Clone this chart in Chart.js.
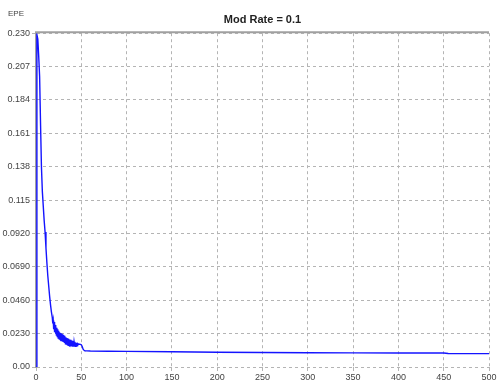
<!DOCTYPE html>
<html>
<head>
<meta charset="utf-8">
<script src="https://cdn.jsdelivr.net/npm/chart.js@4/dist/chart.umd.min.js"></script>
<style>
  html, body { margin: 0; padding: 0; background: #fff; }
  #wrap { width: 499px; height: 385px; }
</style>
</head>
<body>
<div id="wrap"><canvas id="epe-chart"></canvas></div>
<script>
// epochs and EPE (half steps where the curve is noisy)
const epochs = [
  0, 1, 2, 3, 4, 5, 6, 7, 8, 9,
  10, 11, 12, 13, 14, 15, 16, 17, 18,
  18.5, 19, 19.5, 20, 20.5, 21, 21.5, 22, 22.5, 23, 23.5, 24, 24.5, 25, 25.5,
  26, 26.5, 27, 27.5, 28, 28.5, 29, 29.5, 30, 30.5, 31, 31.5, 32, 32.5,
  33, 33.5, 34, 34.5, 35, 35.5, 36, 36.5, 37, 37.5, 38, 38.5, 39, 39.5,
  40, 40.5, 41, 41.5, 42, 42.5, 43, 43.5, 44, 44.5, 45, 45.5, 46,
  47, 48, 49, 50, 51, 52, 53, 54, 56, 60, 80, 100, 150,
  200, 250, 300, 350, 400, 450, 455, 500
];
const epe = [
  0, 0.229, 0.226, 0.214, 0.200, 0.168, 0.138, 0.121, 0.111, 0.101,
  0.093, 0.082, 0.072, 0.063, 0.056, 0.049, 0.043, 0.038, 0.034,
  0.030, 0.032, 0.026, 0.031, 0.024, 0.029, 0.023, 0.028, 0.022, 0.027, 0.021, 0.026, 0.020, 0.025, 0.0195,
  0.024, 0.019, 0.0235, 0.0185, 0.023, 0.018, 0.0225, 0.0175, 0.022, 0.017, 0.0215, 0.0165, 0.021, 0.016,
  0.0205, 0.0158, 0.020, 0.0155, 0.0198, 0.015, 0.0195, 0.0148, 0.019, 0.0145, 0.0187, 0.0143, 0.0183, 0.0142,
  0.018, 0.014, 0.0177, 0.014, 0.0174, 0.0141, 0.0171, 0.0142, 0.0168, 0.0144, 0.0165, 0.0148, 0.0162,
  0.0158, 0.0157, 0.0156, 0.0153, 0.0141, 0.0123, 0.0115, 0.0112, 0.0111, 0.0110, 0.0109, 0.0108, 0.0105,
  0.0102, 0.0100, 0.0098, 0.0097, 0.0096, 0.0096, 0.0093, 0.0092
];
const yTickLabels = ['0.00', '0.0230', '0.0460', '0.0690', '0.0920', '0.115', '0.138', '0.161', '0.184', '0.207', '0.230'];

const gridColor = '#b4b4b4';
const frameColor = '#a0a0a0';
const tickFont = { family: 'Liberation Sans', size: 9 };

// top border + "EPE" label
const frame = {
  id: 'frame',
  afterDraw(chart) {
    const { ctx, chartArea } = chart;
    ctx.save();
    ctx.strokeStyle = frameColor;
    ctx.lineWidth = 2;
    ctx.beginPath();
    ctx.moveTo(chartArea.left - 1, chartArea.top - 1);
    ctx.lineTo(chartArea.right, chartArea.top - 1);
    ctx.stroke();
    ctx.fillStyle = '#444';
    ctx.font = '8px "Liberation Sans"';
    ctx.textBaseline = 'middle';
    ctx.fillText('EPE', 8, 14);
    ctx.restore();
  }
};

new Chart(document.getElementById('epe-chart'), {
  type: 'line',
  data: {
    datasets: [{
      label: 'EPE',
      data: epochs.map((e, i) => ({ x: e, y: epe[i] })),
      borderColor: '#1414ff',
      borderWidth: 1.4,
      pointRadius: 0,
      tension: 0,
      fill: false
    }]
  },
  options: {
    responsive: true,
    maintainAspectRatio: false,
    animation: false,
    layout: { padding: { left: 1, right: 10, top: 0, bottom: 0 } },
    plugins: {
      legend: { display: false },
      tooltip: { enabled: false },
      title: {
        display: true,
        text: 'Mod Rate = 0.1',
        fullSize: false,
        color: '#222',
        font: { family: 'Liberation Sans', size: 11, weight: 'bold' },
        padding: { top: 13, bottom: 7 }
      }
    },
    scales: {
      x: {
        type: 'linear',
        min: 0,
        max: 500,
        afterFit(scale) { scale.height = 18; },
        ticks: { stepSize: 50, color: '#444', font: tickFont, padding: 1, maxRotation: 0 },
        grid: { color: gridColor, lineWidth: 1, tickLength: 4, tickColor: gridColor },
        border: { display: false, dash: [3, 3] }
      },
      y: {
        min: 0,
        max: 0.23,
        afterFit(scale) { scale.width = 35; },
        afterBuildTicks(scale) {
          scale.ticks = yTickLabels.map((t, i) => ({ value: i * 0.023 }));
        },
        ticks: {
          color: '#444',
          font: tickFont,
          padding: 2,
          callback: (v, i) => yTickLabels[i]
        },
        grid: { color: gridColor, lineWidth: 1, tickLength: 4, tickColor: gridColor },
        border: { display: true, color: frameColor, width: 2, dash: [3, 3] }
      }
    }
  },
  plugins: [frame]
});
</script>
</body>
</html>
